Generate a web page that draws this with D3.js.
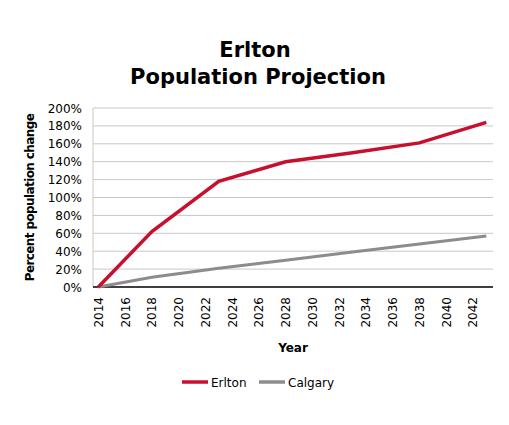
<!DOCTYPE html>
<html>
<head>
<meta charset="utf-8">
<script src="https://cdn.jsdelivr.net/npm/d3@7"></script>
<style>
  body { margin: 0; background: #fff; }
  text { font-family: "DejaVu Sans", sans-serif; }
</style>
</head>
<body>
<svg id="chart" width="509" height="425"></svg>
<script>
// Chart data
const years = [2014, 2018, 2023, 2028, 2033, 2038, 2043];
const erlton = [0, 62, 118, 140, 150, 161, 184];
const calgary = [0, 11, 21, 30, 39, 48, 57];
const yTicks = [0, 20, 40, 60, 80, 100, 120, 140, 160, 180, 200];
const xTicks = d3.range(2014, 2043, 2);

const svg = d3.select('#chart');
const plotLeft = 93, plotRight = 493, plotTop = 108, plotBottom = 287;

const x = d3.scaleLinear().domain([2013.6, 2043.5]).range([plotLeft, plotRight]);
const y = d3.scaleLinear().domain([0, 200]).range([plotBottom, plotTop]);

// Title
svg.append('text').attr('x', 255).attr('y', 57).attr('text-anchor', 'middle')
  .style('font-size', '21px').style('font-weight', 'bold').text('Erlton');
svg.append('text').attr('x', 258).attr('y', 84).attr('text-anchor', 'middle')
  .style('font-size', '21px').style('font-weight', 'bold').text('Population Projection');

// Gridlines
svg.append('g').selectAll('line').data(yTicks.slice(1)).enter().append('line')
  .attr('x1', plotLeft).attr('x2', plotRight)
  .attr('y1', d => y(d)).attr('y2', d => y(d))
  .attr('stroke', '#c8c8c8').attr('stroke-width', 1);
svg.append('line').attr('x1', plotLeft).attr('x2', plotLeft).attr('y1', plotTop).attr('y2', plotBottom)
  .attr('stroke', '#c8c8c8');

// Y axis labels
svg.append('g').selectAll('text').data(yTicks).enter().append('text')
  .attr('x', plotLeft - 11).attr('y', d => y(d) + 4.5).attr('text-anchor', 'end')
  .style('font-size', '12px').text(d => d + '%');

// X axis
svg.append('line').attr('x1', plotLeft).attr('x2', plotRight).attr('y1', plotBottom).attr('y2', plotBottom)
  .attr('stroke', '#000').attr('stroke-width', 1.5);
svg.append('g').selectAll('text').data(xTicks).enter().append('text')
  .attr('transform', d => 'translate(' + (x(d) + 4.5) + ',' + (plotBottom + 10) + ') rotate(-90)')
  .attr('text-anchor', 'end').style('font-size', '12px').text(d => d);

// Axis titles
svg.append('text').attr('x', 293).attr('y', 352).attr('text-anchor', 'middle')
  .style('font-size', '12px').style('font-weight', 'bold').text('Year');
svg.append('text').attr('transform', 'translate(34,' + ((plotTop + plotBottom) / 2) + ') rotate(-90)')
  .attr('text-anchor', 'middle').style('font-size', '12px').style('font-weight', 'bold')
  .style('letter-spacing', '-0.6px').text('Percent population change');

// Lines
const line = d3.line().x((d, i) => x(years[i])).y(d => y(d));
svg.append('path').datum(calgary).attr('d', line).attr('fill', 'none')
  .attr('stroke', '#8c8c8c').attr('stroke-width', 3);
svg.append('path').datum(erlton).attr('d', line).attr('fill', 'none')
  .attr('stroke', '#c8102e').attr('stroke-width', 3.5);

// Legend
const legend = [['Erlton', '#c8102e'], ['Calgary', '#8c8c8c']];
const lg = svg.append('g').selectAll('g').data(legend).enter().append('g')
  .attr('transform', (d, i) => 'translate(' + (182 + i * 77) + ',382)');
lg.append('line').attr('x1', 0).attr('x2', 26).attr('stroke', d => d[1]).attr('stroke-width', 3.5);
lg.append('text').attr('x', 29).attr('y', 4.5).style('font-size', '12px').text(d => d[0]);
</script>
</body>
</html>
